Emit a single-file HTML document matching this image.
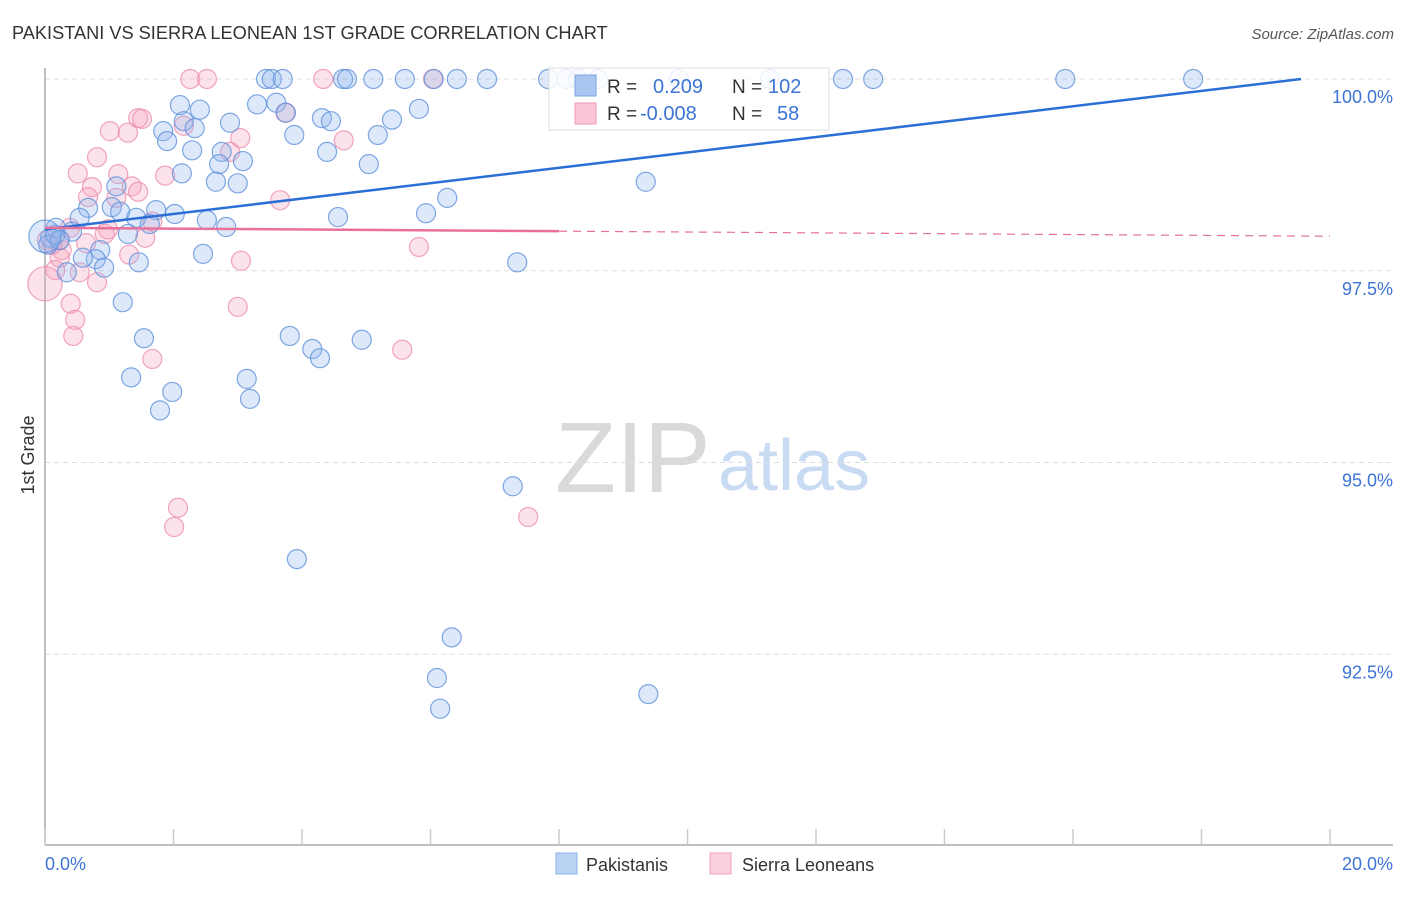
<!DOCTYPE html>
<html><head><meta charset="utf-8"><style>
body{margin:0;background:#fff;width:1406px;height:892px;overflow:hidden;font-family:"Liberation Sans",sans-serif}
svg text{font-family:"Liberation Sans",sans-serif}
</style></head><body>
<svg id="chart" width="1406" height="892" xmlns="http://www.w3.org/2000/svg">
<text x="12" y="39" font-size="18.2" fill="#333">PAKISTANI VS SIERRA LEONEAN 1ST GRADE CORRELATION CHART</text>
<text x="1394" y="39" font-size="15" fill="#555" font-style="italic" text-anchor="end">Source: ZipAtlas.com</text>
<text x="0" y="0" font-size="18" fill="#333" text-anchor="middle" transform="translate(34,455) rotate(-90)">1st Grade</text>
<g>
<text x="555" y="492" font-size="100" fill="#d9d9d9" font-family="Liberation Serif, serif">ZIP</text>
<text x="718" y="490" font-size="72" fill="#c9daf3">atlas</text>
</g>
<g id="grid"></g>
<g id="axes"></g>
<g id="pts"></g>
<g id="lines"></g>
<g>
<rect x="549" y="68" width="280" height="62" fill="#fff" fill-opacity="0.85" stroke="#ddd"/>
<rect x="575" y="75" width="21" height="21" fill="#a9c6f0" stroke="#7ba3e3"/>
<rect x="575" y="103" width="21" height="21" fill="#fbc6d6" stroke="#ef9ab5"/>
<text x="607" y="93" font-size="19" fill="#333">R =</text>
<text x="653" y="93" font-size="20" fill="#3d74d6">0.209</text>
<text x="732" y="93" font-size="19" fill="#333">N =</text>
<text x="768" y="93" font-size="20" fill="#3d74d6">102</text>
<text x="607" y="120" font-size="19" fill="#333">R =</text>
<text x="640" y="120" font-size="20" fill="#3d74d6">-0.008</text>
<text x="732" y="120" font-size="19" fill="#333">N =</text>
<text x="777" y="120" font-size="20" fill="#3d74d6">58</text>
</g>
<g>
<rect x="556" y="853" width="21" height="21" fill="#b9d3f5" stroke="#8db1e8"/>
<text x="586" y="871" font-size="18" fill="#333">Pakistanis</text>
<rect x="710" y="853" width="21" height="21" fill="#fbd0de" stroke="#f0a3bb"/>
<text x="742" y="871" font-size="18" fill="#333">Sierra Leoneans</text>
</g>
</svg>
<script>
const blueX=[3.44,3.53,3.70,4.64,4.70,5.11,5.60,6.05,6.41,6.88,7.83,8.11,8.30,8.61,9.87,11.28,12.42,12.89,15.88,17.87,
2.10,2.41,3.30,3.60,3.75,5.82,4.31,4.45,5.40,1.84,1.90,2.16,2.33,2.88,3.88,5.18,2.29,2.75,3.08,2.71,4.39,5.04,2.13,2.66,3.00,9.35,1.11,1.04,0.67,1.17,1.73,2.02,1.42,0.54,1.63,2.52,2.82,4.56,5.93,6.26,0.17,0.42,1.29,0.08,0.86,0.79,0.59,1.46,0.92,0.34,2.46,7.35,1.21,1.54,3.81,4.16,4.28,4.93,1.34,3.14,1.98,3.19,1.79,7.28,3.92,6.33,6.10,6.15,9.39,0.05,0.16,0.23,0.0];
const blueY=[100,100,100,100,100,100,100,100,100,100,100,100,100,100,100,100,100,100,100,100,
99.66,99.60,99.67,99.69,99.56,99.61,99.49,99.45,99.47,99.32,99.19,99.45,99.36,99.43,99.27,99.27,99.07,99.05,98.93,98.89,99.05,98.89,98.77,98.66,98.64,98.66,98.60,98.33,98.32,98.27,98.29,98.24,98.19,98.19,98.11,98.16,98.07,98.20,98.25,98.45,98.06,98.01,97.98,97.93,97.77,97.65,97.67,97.61,97.54,97.48,97.72,97.61,97.09,96.62,96.65,96.48,96.36,96.60,96.11,96.09,95.92,95.83,95.68,94.69,93.74,92.72,92.19,91.79,91.98,97.84,97.97,97.90,97.95];
const blueSize=blueX.map((v,i)=>i===blueX.length-1?1.7:1);
const pinkX=[2.26,2.52,4.33,6.04,1.45,1.51,1.01,1.29,2.16,3.74,4.65,3.04,2.88,0.81,0.51,1.14,1.87,3.66,0.73,1.35,1.45,0.67,1.11,1.67,0.98,0.03,0.22,0.26,0.64,0.93,1.56,1.31,0.54,0.81,3.05,5.82,0.40,0.47,0.44,3.00,1.67,5.56,2.07,2.01,7.52,0.11,0.23,0.16,0.39,0.0];
const pinkY=[100,100,100,100,99.49,99.48,99.32,99.30,99.39,99.56,99.20,99.23,99.05,98.98,98.77,98.76,98.74,98.42,98.59,98.60,98.53,98.46,98.45,98.14,98.04,97.90,97.90,97.77,97.86,97.98,97.93,97.71,97.48,97.35,97.63,97.81,97.07,96.86,96.65,97.03,96.35,96.47,94.41,94.16,94.29,97.84,97.67,97.51,98.06,97.33];
const pinkSize=pinkX.map((v,i)=>i===pinkX.length-1?1.8:1);
const yTicks=[100,97.5,95,92.5];
const yTickLabels=["100.0%","97.5%","95.0%","92.5%"];
const xTicks=[0,2,4,6,8,10,12,14,16,18,20];
const blueLine=[98.04,100.0,19.55];
const pinkLine=[98.06,97.95,8.0,20];
const NS='http://www.w3.org/2000/svg';
const sx=v=>45+v/20*1285;
const sy=v=>79+(100-v)*76.7;
function mk(tag,attrs,parent){const e=document.createElementNS(NS,tag);for(const k in attrs)e.setAttribute(k,attrs[k]);parent.appendChild(e);return e;}
const grid=document.getElementById('grid'),axes=document.getElementById('axes'),pts=document.getElementById('pts'),lines=document.getElementById('lines');
yTicks.forEach((t,i)=>{
  const g=mk('line',{x1:45,x2:1393,y1:sy(t),y2:sy(t),stroke:'#ddd','stroke-dasharray':'5,4'},grid);
  
  
  const tx=mk('text',{x:1393,y:sy(t)+24,'font-size':18,fill:'#3d74d6','text-anchor':'end'},grid);
  tx.textContent=yTickLabels[i];
  
  
});
const ya=mk('line',{x1:45,x2:45,y1:68,y2:845,stroke:'#aaa','stroke-width':1.5},axes);


const xa=mk('line',{x1:45,x2:1393,y1:845,y2:845,stroke:'#aaa','stroke-width':1.5},axes);


xTicks.forEach(t=>{
  const l=mk('line',{x1:sx(t),x2:sx(t),y1:829,y2:845,stroke:'#ccc','stroke-width':1.5},axes);
  
  
});
const xl0=mk('text',{x:45,y:870,'font-size':18,fill:'#3d74d6'},axes);xl0.textContent='0.0%';


const xl1=mk('text',{x:1393,y:870,'font-size':18,fill:'#3d74d6','text-anchor':'end'},axes);xl1.textContent='20.0%';


function drawPts(X,Y,S,fill,stroke,name){
  X.forEach((x,i)=>{
    const c=mk('circle',{cx:sx(x),cy:sy(Y[i]),r:9.5*S[i],fill:fill,'fill-opacity':0.3,stroke:stroke,'stroke-opacity':0.8,'stroke-width':1.2},pts);
    
    
  });
}
drawPts(pinkX,pinkY,pinkSize,'#f4a0bb','#ec8fae','point-sierra-leonean');
drawPts(blueX,blueY,blueSize,'#8fb5ee','#5f91dc','point-pakistani');
const bl=mk('line',{x1:sx(0),y1:sy(blueLine[0]),x2:sx(blueLine[2]),y2:sy(blueLine[1]),stroke:'#2b6fd6','stroke-width':2.5},lines);


const py=x=>pinkLine[0]+(pinkLine[1]-pinkLine[0])*x/20;
const pl=mk('line',{x1:sx(0),y1:sy(py(0)),x2:sx(pinkLine[2]),y2:sy(py(pinkLine[2])),stroke:'#e8709a','stroke-width':2.5},lines);


const pd=mk('line',{x1:sx(pinkLine[2]),y1:sy(py(pinkLine[2])),x2:sx(pinkLine[3]),y2:sy(py(pinkLine[3])),stroke:'#e8709a','stroke-width':1.2,'stroke-dasharray':'8,6'},lines);


</script>
</body></html>
